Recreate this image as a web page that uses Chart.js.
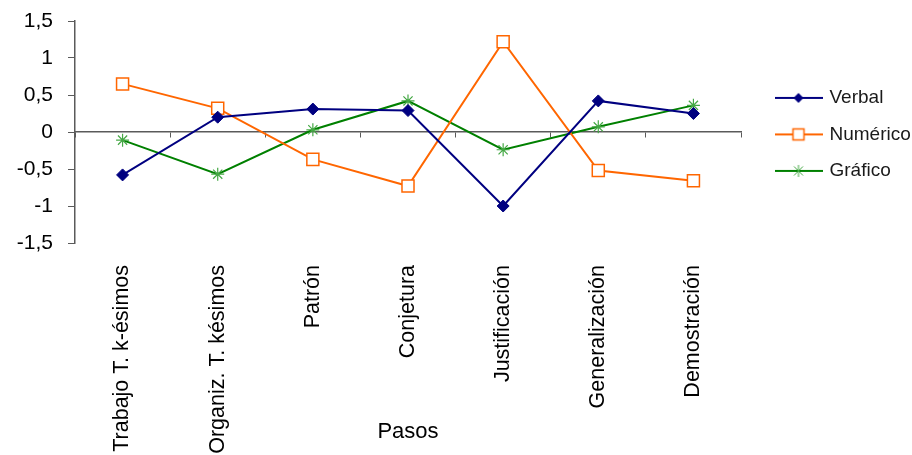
<!DOCTYPE html>
<html>
<head>
<meta charset="utf-8">
<script src="https://cdn.jsdelivr.net/npm/chart.js@4"></script>
<style>
  html, body { margin: 0; padding: 0; background: #fff; }
  #wrap { width: 912px; height: 455px; position: relative; }
</style>
</head>
<body>
<div id="wrap"><canvas id="c" width="912" height="455"></canvas></div>
<script>
const categories = ['Trabajo T. k-ésimos', 'Organiz. T. késimos', 'Patrón', 'Conjetura', 'Justificación', 'Generalización', 'Demostración'];
const verbal   = [-0.58, 0.20, 0.31, 0.29, -1.00, 0.42, 0.25];
const numerico = [0.65, 0.32, -0.37, -0.73, 1.22, -0.52, -0.66];
const grafico  = [-0.11, -0.57, 0.03, 0.42, -0.24, 0.07, 0.36];
const seriesNames = ['Verbal', 'Numérico', 'Gráfico'];
const yMin = -1.5, yMax = 1.5, yStep = 0.5;
const xTitle = 'Pasos';

const FONT = "'Liberation Sans', Arial, sans-serif";
const AXIS = '#5a5a5a';
const NAVY = '#000080', ORANGE = '#FF6600', GREEN = '#008000', STARG = '#45a845';

function legendIcon(kind) {
  const c = document.createElement('canvas');
  c.width = 48; c.height = 16;
  const g = c.getContext('2d');
  const cy = 8, cx = 24;
  g.lineWidth = 2;
  g.strokeStyle = kind === 0 ? NAVY : kind === 1 ? ORANGE : GREEN;
  g.beginPath(); g.moveTo(0, cy); g.lineTo(48, cy); g.stroke();
  if (kind === 0) {
    g.fillStyle = NAVY;
    g.beginPath(); g.moveTo(cx, cy - 5); g.lineTo(cx + 5, cy); g.lineTo(cx, cy + 5); g.lineTo(cx - 5, cy); g.closePath(); g.fill();
  } else if (kind === 1) {
    g.fillStyle = '#fff'; g.strokeStyle = ORANGE; g.lineWidth = 1.5;
    g.fillRect(cx - 5.5, cy - 5.5, 11, 11); g.strokeRect(cx - 5.5, cy - 5.5, 11, 11);
  } else {
    g.strokeStyle = STARG; g.lineWidth = 1;
    g.beginPath();
    g.moveTo(cx, cy - 6); g.lineTo(cx, cy + 6);
    g.moveTo(cx - 4.5, cy - 4.5); g.lineTo(cx + 4.5, cy + 4.5);
    g.moveTo(cx - 4.5, cy + 4.5); g.lineTo(cx + 4.5, cy - 4.5);
    g.stroke();
  }
  return c;
}
const icons = [legendIcon(0), legendIcon(1), legendIcon(2)];

new Chart(document.getElementById('c'), {
  type: 'line',
  data: {
    labels: categories,
    datasets: [
      { label: seriesNames[0], data: verbal, borderColor: NAVY, backgroundColor: NAVY, borderWidth: 2,
        pointStyle: 'rectRot', pointRadius: 6, pointBackgroundColor: NAVY, pointBorderColor: NAVY, pointBorderWidth: 1, tension: 0 },
      { label: seriesNames[1], data: numerico, borderColor: ORANGE, backgroundColor: '#fff', borderWidth: 2,
        pointStyle: 'rect', pointRadius: 8.5, pointBackgroundColor: '#fff', pointBorderColor: ORANGE, pointBorderWidth: 1.5, tension: 0 },
      { label: seriesNames[2], data: grafico, borderColor: GREEN, backgroundColor: GREEN, borderWidth: 2,
        pointStyle: 'star', pointRadius: 6.5, pointBorderColor: STARG, pointBorderWidth: 1.2, tension: 0 }
    ]
  },
  options: {
    responsive: false,
    animation: false,
    devicePixelRatio: 1,
    layout: { padding: { left: 0, top: 21, right: 0, bottom: 0 } },
    plugins: {
      tooltip: { enabled: false },
      legend: {
        position: 'right',
        fullSize: false,
        maxWidth: 152.5,
        title: { display: true, text: ' ', font: { size: 4 }, padding: 0 },
        labels: {
          usePointStyle: true,
          pointStyleWidth: 43,
          padding: 17.5,
          color: '#1a1a1a',
          font: { family: FONT, size: 19 },
          generateLabels: (chart) => chart.data.datasets.map((ds, i) => ({
            text: ds.label, pointStyle: icons[i], datasetIndex: i, hidden: false,
            fillStyle: 'transparent', strokeStyle: 'transparent', lineWidth: 0, fontColor: '#1a1a1a'
          }))
        }
      }
    },
    scales: {
      x: {
        type: 'category',
        position: 'bottom',
        offset: true,
        grid: { display: false, drawTicks: false },
        border: { display: false },
        ticks: { autoSkip: false, minRotation: 90, maxRotation: 90, padding: 22, color: '#000',
                 font: { family: FONT, size: 21.5 } },
        title: { display: true, text: xTitle, color: '#000', font: { family: FONT, size: 22 }, padding: { top: 0, bottom: 10 } },
        afterFit: (s) => { s.height = 212; }
      },
      x2: {
        type: 'category',
        labels: categories,
        position: { y: 0 },
        offset: true,
        grid: { offset: true, drawOnChartArea: false, drawTicks: true, tickLength: 5, color: AXIS, lineWidth: 1 },
        border: { display: true, color: AXIS, width: 1.5 },
        ticks: { display: false }
      },
      y: {
        type: 'linear',
        position: 'left',
        min: yMin, max: yMax,
        ticks: { stepSize: yStep, padding: 15, color: '#000', font: { family: FONT, size: 21 },
                 callback: (v) => String(v).replace('.', ',') },
        grid: { drawOnChartArea: false, drawTicks: true, tickLength: 7, color: AXIS },
        border: { display: true, color: AXIS, width: 1.5 },
        afterFit: (s) => { s.width = 75; s.paddingTop = 0; s.paddingBottom = 0; }
      },
      ygap: {
        type: 'linear',
        position: 'right',
        display: true,
        grid: { display: false, drawTicks: false },
        border: { display: false },
        ticks: { display: false },
        afterFit: (s) => { s.width = 18.5; s.paddingTop = 0; s.paddingBottom = 0; }
      }
    }
  }
});
</script>
</body>
</html>
